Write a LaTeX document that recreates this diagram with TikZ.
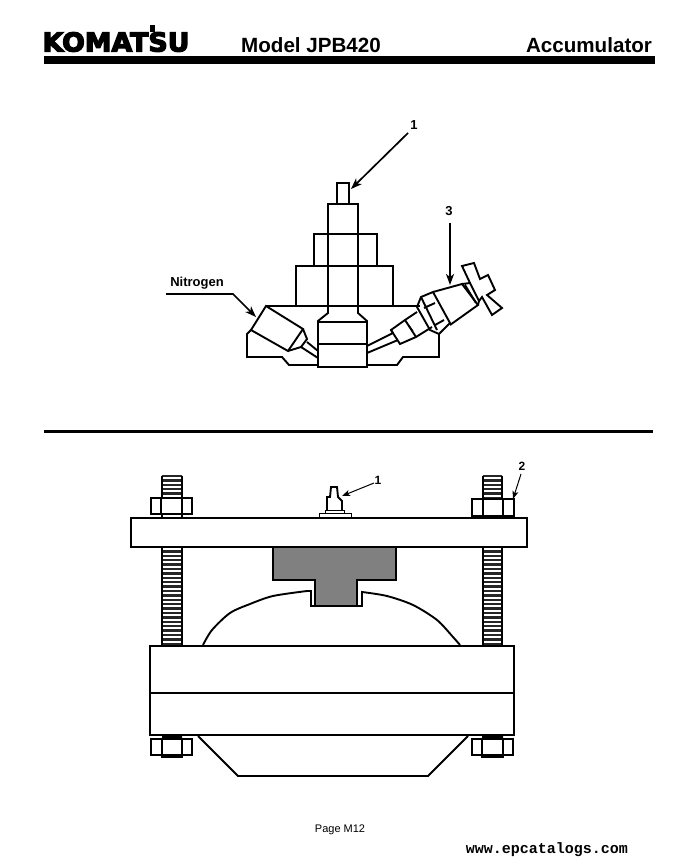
\documentclass[tikz,border=0pt]{standalone}
\usepackage{fontspec}
\setmainfont{Liberation Sans}
\setmonofont{Liberation Mono}
\newfontfamily\logofont[FakeBold=5]{DejaVu Sans Bold}
\usetikzlibrary{arrows.meta}
\newcommand{\threads}[5]{\foreach \yy in {#3,#4,...,#5} {\draw[threadline] (#1,\yy) -- (#2,\yy);} \draw[part] (#1,#3) -- (#1,#5) (#2,#3) -- (#2,#5);}
\tikzset{
  part/.style={line width=1.9pt,line join=miter},
  thin part/.style={line width=1pt},
  threadline/.style={line width=2.3pt,black!85},
  leader/.style={-{Stealth[length=11pt,width=8pt,inset=3pt]},line width=1.7pt},
  small leader/.style={-{Stealth[length=8pt,width=6pt,inset=2pt]},line width=1pt},
  callout/.style={font=\bfseries\fontsize{13}{15}\selectfont,inner sep=0pt},
  small callout/.style={font=\bfseries\fontsize{12}{14}\selectfont,inner sep=0pt},
  heading/.style={font=\bfseries\fontsize{20.6}{23}\selectfont,inner sep=0pt}
}
\begin{document}
\begin{tikzpicture}[x=1pt,y=-1pt]
  \useasboundingbox (0,0) rectangle (679,866);
  % header
  \node[font=\logofont\fontsize{26}{28}\selectfont,inner sep=0pt,xscale=1.03] (logo) at (116,42) {KOMATSU};
  \fill (150,25) rectangle (155,32);
  \node[heading] (model) at (311,45) {Model JPB420};
  \node[heading] (title) at (589,45) {Accumulator};
  \fill (44,56) rectangle (655,64);
  \draw[line width=3pt] (44,431.5) -- (653,431.5);
  % upper view: column
  \draw[part] (337,204) -- (337,183) -- (349,183) -- (349,204);
  \draw[part] (328,307) -- (328,204) -- (358,204) -- (358,307);
  \draw[part] (314,266) -- (314,234) -- (377,234) -- (377,266);
  \draw[part] (296,306) -- (296,266) -- (393,266) -- (393,306);
  \draw[part] (328,307) -- (328,313) -- (318,321) -- (318,367) -- (367,367) -- (367,321) -- (358,313) -- (358,307);
  \draw[part] (318,322) -- (367,322) (318,344) -- (367,344);
  \draw[line width=2.4pt] (318,367) -- (367,367);
  % upper view: body
  \draw[part] (266,306) -- (420,306);
  \draw[part] (251,330) -- (247,334) -- (247,357) -- (282,357) -- (289,365) -- (318,365);
  \draw[part] (367,365) -- (397,365) -- (403,357) -- (439,357) -- (439,334);
  % upper view: left bottle
  \draw[part] (266,306) -- (303,329) -- (288,351) -- (251,330) -- cycle;
  \draw[part] (303,329) -- (307,339) -- (301,347) -- (288,351);
  \draw[part] (307,342) -- (318,351) (301,347) -- (318,358);
  % upper view: right valve
  \draw[part] (367,346) -- (393,333) (367,353) -- (398,340);
  \draw[part] (393,333) -- (391,330) -- (405,320) -- (417,312);
  \draw[part] (391,330) -- (400,344) -- (416,337) -- (432,327);
  \draw[part] (405,320) -- (416,337);
  \draw[thin part] (408,324) -- (413,331);
  \draw[part] (417,307) -- (421,297) -- (433,292) -- (450,323) -- (439,334) -- (430,330) -- cycle;
  \draw[part] (421,297) -- (437,330) (424,308) -- (435,303) (435,325) -- (444,320);
  \draw[part] (433,292) -- (462,284) -- (478,305) -- (450,325);
  \draw[part] (462,284) -- (470,283) -- (479,301) -- (478,305) (465,285) -- (476,303);
  \draw[part] (470,283) -- (462,266) -- (474,263) -- (480,279) -- (488,275) -- (495,290) -- (487,295) -- (502,308) -- (492,315) -- (482,297) -- (479,301);
  % upper view: callouts
  \node[callout] (one) at (414,125) {1};
  \coordinate (oneend) at (351,189);
  \draw[leader] (408,133) -- (oneend);
  \node[callout] (three) at (449,211) {3};
  \coordinate (threeend) at (450,285);
  \draw[leader] (three.south -| threeend) ++(0,7) -- (threeend);
  \node[callout] (nitrogen) at (197,283) {Nitrogen};
  \coordinate (nitroend) at (256,317);
  \draw[leader] (166,294) -- (233,294) -- (nitroend);
  % lower view: bolts
  \threads{162}{182}{476}{480.4}{518}
  \threads{162}{182}{547}{551.4}{645}
  \threads{483}{502}{476}{480.4}{518}
  \threads{483}{502}{547}{551.4}{645}
  \draw[part,fill=white] (151,498) rectangle (192,514);
  \draw[part] (161,498) -- (161,514) (182,498) -- (182,514);
  \draw[part,fill=white] (472,499) rectangle (514,516);
  \draw[part] (483,499) -- (483,516) (503,499) -- (503,516);
  \fill[white] (163,515) rectangle (181,516.8);
  \fill (483,516) rectangle (502,518);
  % lower view: plate and fitting
  \draw[part,fill=white] (131,518) rectangle (527,547);
  \draw[part] (327,510) -- (327,497) -- (330,497) -- (331,487) -- (337,487) -- (338,497) -- (342,501) -- (342,510);
  \draw[thin part] (325,510) rectangle (344,513) (319,513) rectangle (351,518);
  % lower view: stamp
  \draw[part,fill=black!50] (273,547) -- (396,547) -- (396,580) -- (357,580) -- (357,606) -- (315,606) -- (315,580) -- (273,580) -- cycle;
  % lower view: dome
  \draw[part] plot[smooth] coordinates {(203,645) (212,630) (230,613) (250,604) (273,596) (307,591)} -- (311,591) -- (311,606) -- (362,606) -- (362,592) -- plot[smooth] coordinates {(362,592) (387,596) (413,605) (437,620) (453,637) (460,645)};
  % lower view: block and cover
  \draw[part,fill=white] (150,646) rectangle (514,735);
  \draw[part] (150,693) -- (514,693);
  \draw[part] (198,736) -- (238,776) -- (428,776) -- (468,736);
  \draw[line width=2.4pt] (238,776) -- (428,776);
  \draw[part] (151,739) rectangle (192,755) (162,739) rectangle (182,757);
  \draw[part] (472,739) rectangle (513,755) (482,739) rectangle (503,757);
  \fill (162,735) rectangle (182,739) (482,735) rectangle (503,739);
  % lower view: callouts
  \node[small callout] (onelow) at (378,480) {1};
  \coordinate (onelowend) at (342,496);
  \draw[small leader] (374,483) -- (onelowend);
  \node[small callout] (twolow) at (522,466) {2};
  \coordinate (twolowend) at (513,499);
  \draw[small leader] (521,474) -- (twolowend);
  % footer
  \node[inner sep=0pt,font=\fontsize{11}{13}\selectfont] (page) at (340,830) {Page M12};
  \node[inner sep=0pt,font=\ttfamily\bfseries\fontsize{15}{17}\selectfont] (site) at (547,850) {www.epcatalogs.com};
\end{tikzpicture}
\end{document}
